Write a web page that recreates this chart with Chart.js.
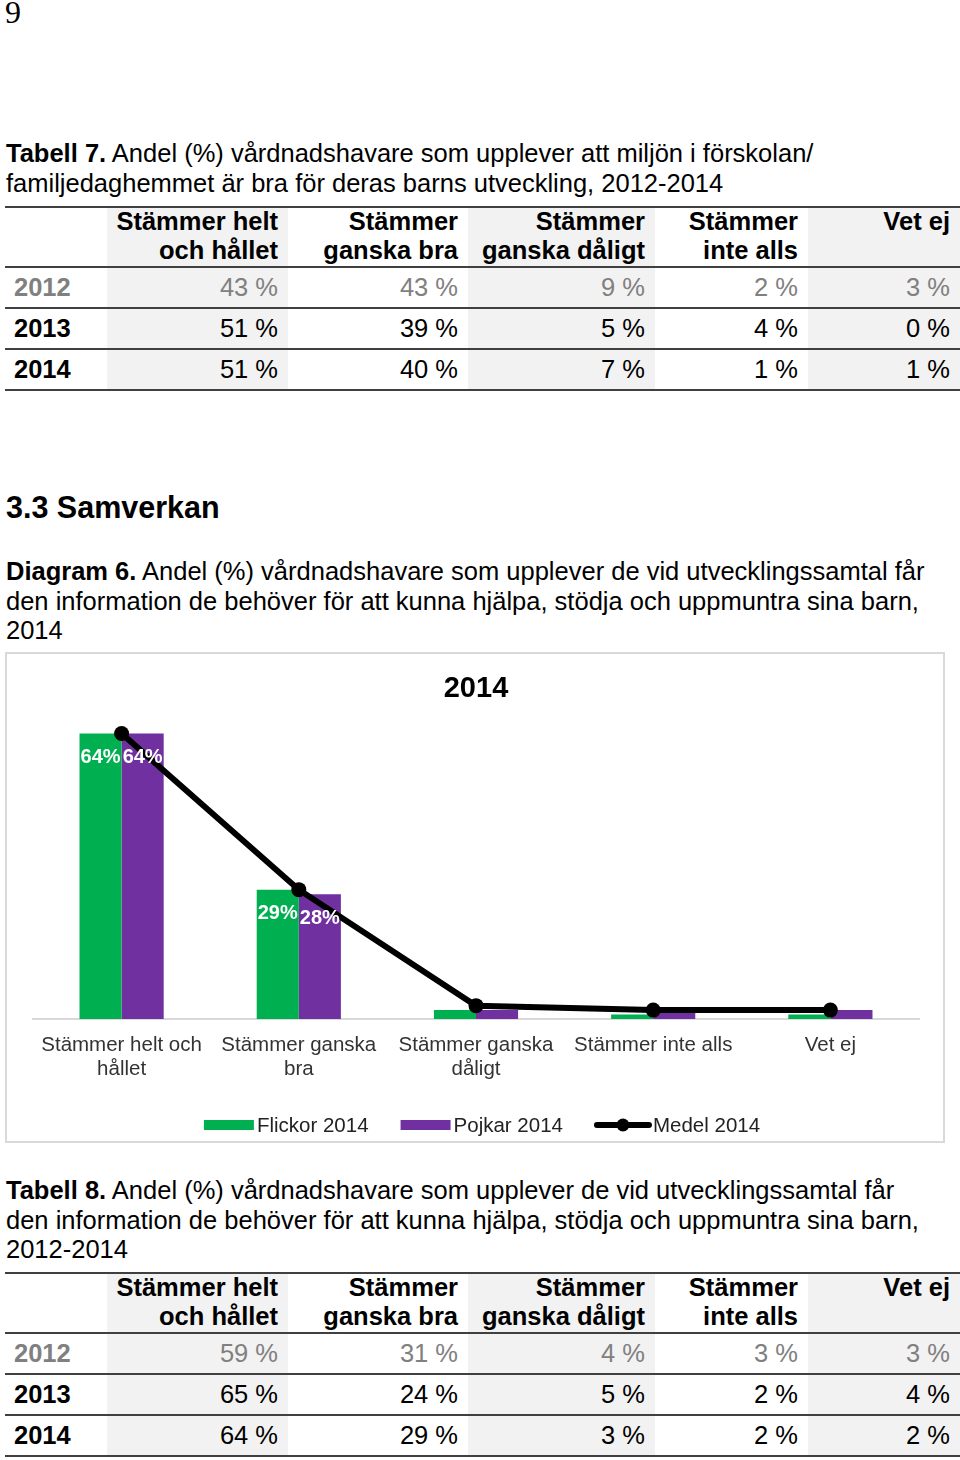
<!DOCTYPE html>
<html lang="sv">
<head>
<meta charset="utf-8">
<title>Diagram 6</title>
<script src="https://cdn.jsdelivr.net/npm/chart.js@4"></script>
<style>
    body { margin: 0; width: 960px; height: 1460px; position: relative; background: #fff; font-family: "Liberation Sans", Arial, sans-serif; color: #000; }
    .pagenr { position: absolute; left: 5px; top: -6px; font-family: "Liberation Serif", serif; font-size: 32px; }
    .caption { position: absolute; left: 6px; font-size: 25.5px; line-height: 29.5px; width: 954px; white-space: nowrap; }
    .heading { position: absolute; left: 6px; font-size: 30.5px; font-weight: bold; }
    table { position: absolute; left: 5px; border-collapse: collapse; font-size: 25.5px; table-layout: fixed; }
    th, td { padding: 0 10px 0 0; text-align: right; }
    th { font-weight: bold; vertical-align: top; line-height: 29px; height: 56px; }
    th span { position: relative; top: -1px; }
    td { height: 39px; line-height: 29px; }
    thead tr { border-top: 2px solid #404040; border-bottom: 2px solid #404040; }
    tbody tr { border-bottom: 2px solid #404040; }
    td.year { text-align: left; padding-left: 9px; font-weight: bold; }
    .shade { background: #f2f2f2; }
    tr.old td { color: #808080; }
    #chartBox { position: absolute; left: 5px; top: 652px; width: 940px; height: 491px; border: 2px solid #d9d9d9; box-sizing: border-box; }
    #chartBox canvas { position: absolute; left: 0; top: 0; }
</style>
</head>
<body>
<div class="pagenr">9</div>

<div class="caption" style="top:139px"><b>Tabell 7.</b> Andel (%) vårdnadshavare som upplever att miljön i förskolan/<br>familjedaghemmet är bra för deras barns utveckling, 2012-2014</div>
<table id="table7" style="top:206px"></table>

<div class="heading" style="top:490px">3.3 Samverkan</div>

<div class="caption" style="top:557px"><b>Diagram 6.</b> Andel (%) vårdnadshavare som upplever de vid utvecklingssamtal får<br>den information de behöver för att kunna hjälpa, stödja och uppmuntra sina barn,<br>2014</div>

<div id="chartBox"><canvas id="diagram6" width="936" height="487"></canvas></div>

<div class="caption" style="top:1176px"><b>Tabell 8.</b> Andel (%) vårdnadshavare som upplever de vid utvecklingssamtal får<br>den information de behöver för att kunna hjälpa, stödja och uppmuntra sina barn,<br>2012-2014</div>
<table id="table8" style="top:1272px"></table>

<script>
// chart data
const categories = [['Stämmer helt och', 'hållet'], ['Stämmer ganska', 'bra'], ['Stämmer ganska', 'dåligt'], 'Stämmer inte alls', 'Vet ej'];
const flickor2014 = [64, 29, 2, 1, 1];
const pojkar2014 = [64, 28, 2, 2, 2];
const medel2014 = [64, 29, 3, 2, 2];

// table data
const tableHeaders = [['Stämmer helt', 'och hållet'], ['Stämmer', 'ganska bra'], ['Stämmer', 'ganska dåligt'], ['Stämmer', 'inte alls'], ['Vet ej']];
const tableYears = ['2012', '2013', '2014'];
const table7Values = [
    [43, 43, 9, 2, 3],
    [51, 39, 5, 4, 0],
    [51, 40, 7, 1, 1]
];
const table8Values = [
    [59, 31, 4, 3, 3],
    [65, 24, 5, 2, 4],
    [64, 29, 3, 2, 2]
];

const colWidths = [102, 181, 180, 187, 153, 152];

function renderTable(id, values) {
    const table = document.getElementById(id);
    let html = '<colgroup>' + colWidths.map(w => `<col style="width:${w}px">`).join('') + '</colgroup>';
    html += '<thead><tr><th></th>';
    tableHeaders.forEach((h, i) => {
        html += `<th class="${i % 2 === 0 ? 'shade' : ''}"><span>${h.join('<br>')}</span></th>`;
    });
    html += '</tr></thead><tbody>';
    values.forEach((row, r) => {
        html += `<tr class="${r === 0 ? 'old' : ''}"><td class="year">${tableYears[r]}</td>`;
        row.forEach((v, i) => {
            html += `<td class="${i % 2 === 0 ? 'shade' : ''}">${v} %</td>`;
        });
        html += '</tr>';
    });
    html += '</tbody>';
    table.innerHTML = html;
}

renderTable('table7', table7Values);
renderTable('table8', table8Values);

// white value labels inside the tall bars
const barLabels = {
    id: 'barLabels',
    afterDatasetsDraw(chart) {
        const ctx = chart.ctx;
        ctx.save();
        ctx.font = 'bold 20px "Liberation Sans", Arial, sans-serif';
        ctx.fillStyle = '#ffffff';
        ctx.textAlign = 'center';
        ctx.textBaseline = 'middle';
        chart.data.datasets.forEach((ds, i) => {
            if (ds.type === 'line') return;
            chart.getDatasetMeta(i).data.forEach((bar, j) => {
                if (ds.data[j] < 10) return;
                ctx.fillText(ds.data[j] + '%', bar.x, bar.y + 24);
            });
        });
        ctx.restore();
    }
};

// legend drawn at the bottom of the box
const bottomLegend = {
    id: 'bottomLegend',
    afterDraw(chart) {
        const ctx = chart.ctx;
        const font = '20.5px "Liberation Sans", Arial, sans-serif';
        const symbolW = 50;
        const gap = 3;
        const spacing = 32;
        ctx.save();
        ctx.font = font;
        const items = chart.data.datasets.map(ds => ({
            text: ds.label,
            line: ds.type === 'line',
            color: ds.type === 'line' ? ds.borderColor : ds.backgroundColor,
            w: symbolW + gap + ctx.measureText(ds.label).width + (ds.type === 'line' ? 5 : 0)
        }));
        const total = items.reduce((s, it) => s + it.w, 0) + spacing * (items.length - 1);
        let x = (chart.width - total) / 2 + 7;
        const y = chart.height - 16;
        items.forEach(it => {
            if (it.line) {
                ctx.strokeStyle = it.color;
                ctx.lineWidth = 6;
                ctx.lineCap = 'round';
                ctx.beginPath();
                ctx.moveTo(x + 2, y);
                ctx.lineTo(x + symbolW + 4, y);
                ctx.stroke();
                ctx.fillStyle = it.color;
                ctx.beginPath();
                ctx.arc(x + (symbolW + 6) / 2, y, 6.5, 0, Math.PI * 2);
                ctx.fill();
            } else {
                ctx.fillStyle = it.color;
                ctx.fillRect(x, y - 5, symbolW, 10);
            }
            ctx.fillStyle = '#222';
            ctx.textAlign = 'left';
            ctx.textBaseline = 'middle';
            ctx.fillText(it.text, x + symbolW + gap + (it.line ? 5 : 0), y + 1);
            x += it.w + spacing;
        });
        ctx.restore();
    }
};

new Chart(document.getElementById('diagram6').getContext('2d'), {
    data: {
        labels: categories,
        datasets: [
            {
                type: 'bar',
                label: 'Flickor 2014',
                data: flickor2014,
                backgroundColor: '#00b050',
                order: 1
            },
            {
                type: 'bar',
                label: 'Pojkar 2014',
                data: pojkar2014,
                backgroundColor: '#7030a0',
                order: 1
            },
            {
                type: 'line',
                label: 'Medel 2014',
                data: medel2014,
                borderColor: '#000000',
                backgroundColor: '#000000',
                borderWidth: 6,
                pointRadius: 7.5,
                pointBackgroundColor: '#000000',
                pointBorderWidth: 0,
                tension: 0,
                order: 0
            }
        ]
    },
    options: {
        responsive: false,
        animation: false,
        layout: { padding: { left: 26, right: 24, top: 0, bottom: 46 } },
        datasets: {
            bar: { categoryPercentage: 0.475, barPercentage: 1.0 }
        },
        plugins: {
            legend: { display: false },
            tooltip: { enabled: false },
            title: {
                display: true,
                text: '2014',
                color: '#000',
                font: { family: '"Liberation Sans", Arial, sans-serif', size: 29, weight: 'bold' },
                padding: { top: 18, bottom: 0 }
            }
        },
        scales: {
            x: {
                grid: { display: false, drawTicks: false },
                border: { display: true, color: '#d9d9d9', width: 2 },
                ticks: {
                    color: '#333',
                    padding: 14,
                    maxRotation: 0,
                    autoSkip: false,
                    font: { family: '"Liberation Sans", Arial, sans-serif', size: 20.5, lineHeight: 1.17 }
                }
            },
            y: {
                display: false,
                min: 0,
                max: 70
            }
        }
    },
    plugins: [barLabels, bottomLegend]
});
</script>
</body>
</html>
